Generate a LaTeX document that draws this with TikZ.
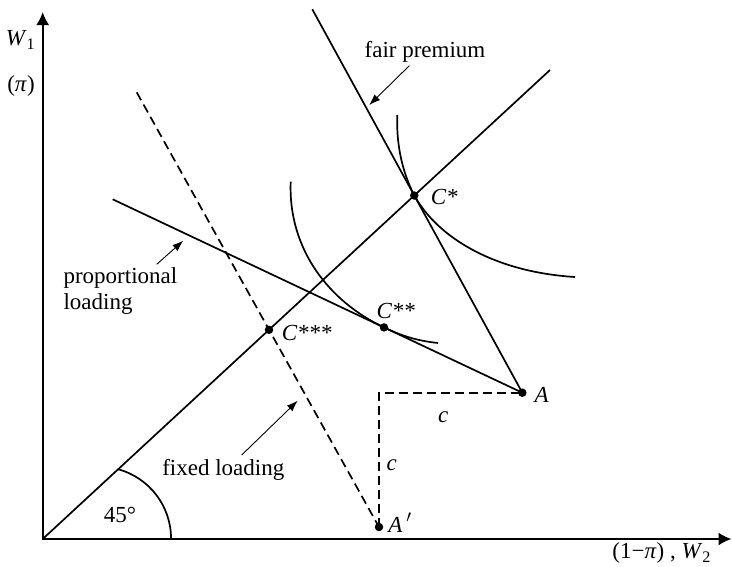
\documentclass[tikz,border=0pt]{standalone}
\usepackage{fontspec}
\setmainfont{Liberation Serif}
\usetikzlibrary{arrows.meta}
\begin{document}
\begin{tikzpicture}[x=1pt,y=-1pt,
  line width=1.7pt,
  ax/.style={line width=1.9pt,-{Latex[length=13pt,width=13pt]}},
  dotnode/.style={circle,fill=black,draw=none,inner sep=0pt,minimum size=8.5pt},
  lbl/.style={font=\fontsize{23}{26}\selectfont, inner sep=0pt},
  pointer/.style={line width=0.9pt,-{Latex[length=11pt,width=8pt]}},
  dashline/.style={dash pattern=on 9pt off 5pt}
]
\useasboundingbox (0,0) rectangle (732,566);

% axes
\coordinate (O) at (42.7,539);
\coordinate (ytop) at (42.7,12);
\coordinate (xend) at (731.5,539);
\draw[ax] ([yshift=-0.95pt]O) -- (ytop);
\draw[ax] ([xshift=-0.95pt]O) -- (xend);

% points
\node[dotnode] (Cs) at (414.3,195.5) {};
\node[dotnode] (Css) at (384,327.4) {};
\node[dotnode] (Csss) at (269,329.8) {};
\node[dotnode] (A) at (522.3,392.7) {};
\node[dotnode] (Ap) at (379,527) {};

% free ends of lines
\coordinate (fpTop) at (312.3,9.3);
\coordinate (plStart) at (112.7,199.3);
\coordinate (flTop) at (136.7,92.3);
\coordinate (diagEnd) at (550,70);

% lines
\draw (O) -- (diagEnd);
\draw (fpTop) -- (A.center);
\draw (plStart) -- (A.center);
\draw[dashline] (flTop) -- (Ap.center);
\draw[dashline] (Ap.center) -- (Ap |- A) -- (A.center);

% indifference curves
\draw (397.3,115) .. controls (396,150) and (404.7,176.7) .. (Cs.center)
      .. controls (438.2,238.2) and (495,272) .. (575,277);
\draw (290.7,181.7) .. controls (288,250) and (330,302) .. (Css.center)
      .. controls (405,337.5) and (420,341) .. (438,343);

% 45 degree arc
\draw (117.9,469.2) arc[start angle=-75, end angle=0, radius=71.7];

% pointer arrows
\coordinate (fpTail) at (409.3,65.7);
\coordinate (fpTip) at (369.3,105);
\coordinate (plTail) at (156.7,264.3);
\coordinate (plTip) at (183.3,240.7);
\coordinate (flTail) at (241.7,455);
\coordinate (flTip) at (297.7,400.7);
\draw[pointer] (fpTail) -- (fpTip);
\draw[pointer] (plTail) -- (plTip);
\draw[pointer] (flTail) -- (flTip);

% labels
\node[lbl] (lW1) at (20.5,40) {\textit{W}\textsubscript{1}};
\node[lbl] (lpi) at (21,86) {(\textit{π})};
\node[lbl, anchor=base] (lx) at (661.7,558.5) {(1−\textit{π}) , \textit{W}\textsubscript{2}};
\node[lbl, anchor=west] (lCs) at (430,197) {\textit{C*}};
\node[lbl] (lCss) at (395.7,310.7) {\textit{C**}};
\node[lbl] (lCsss) at (306.7,332.7) {\textit{C***}};
\node[lbl] (lA) at (541.7,395) {\textit{A}};
\node[lbl] (lAp) at (400,522.7) {\textit{A}\,$'$};
\node[lbl] (lc1) at (391.7,465) {\textit{c}};
\node[lbl] (lc2) at (443.3,416.7) {\textit{c}};
\node[lbl] (l45) at (120,515) {45°};
\node[lbl, anchor=base] (lfp) at (425,57) {fair premium};
\node[lbl, anchor=base] (lfl) at (223.3,475) {fixed loading};
\node[lbl, anchor=west, align=left] (lpl) at (62.7,291) {proportional\\loading};
\end{tikzpicture}
\end{document}
